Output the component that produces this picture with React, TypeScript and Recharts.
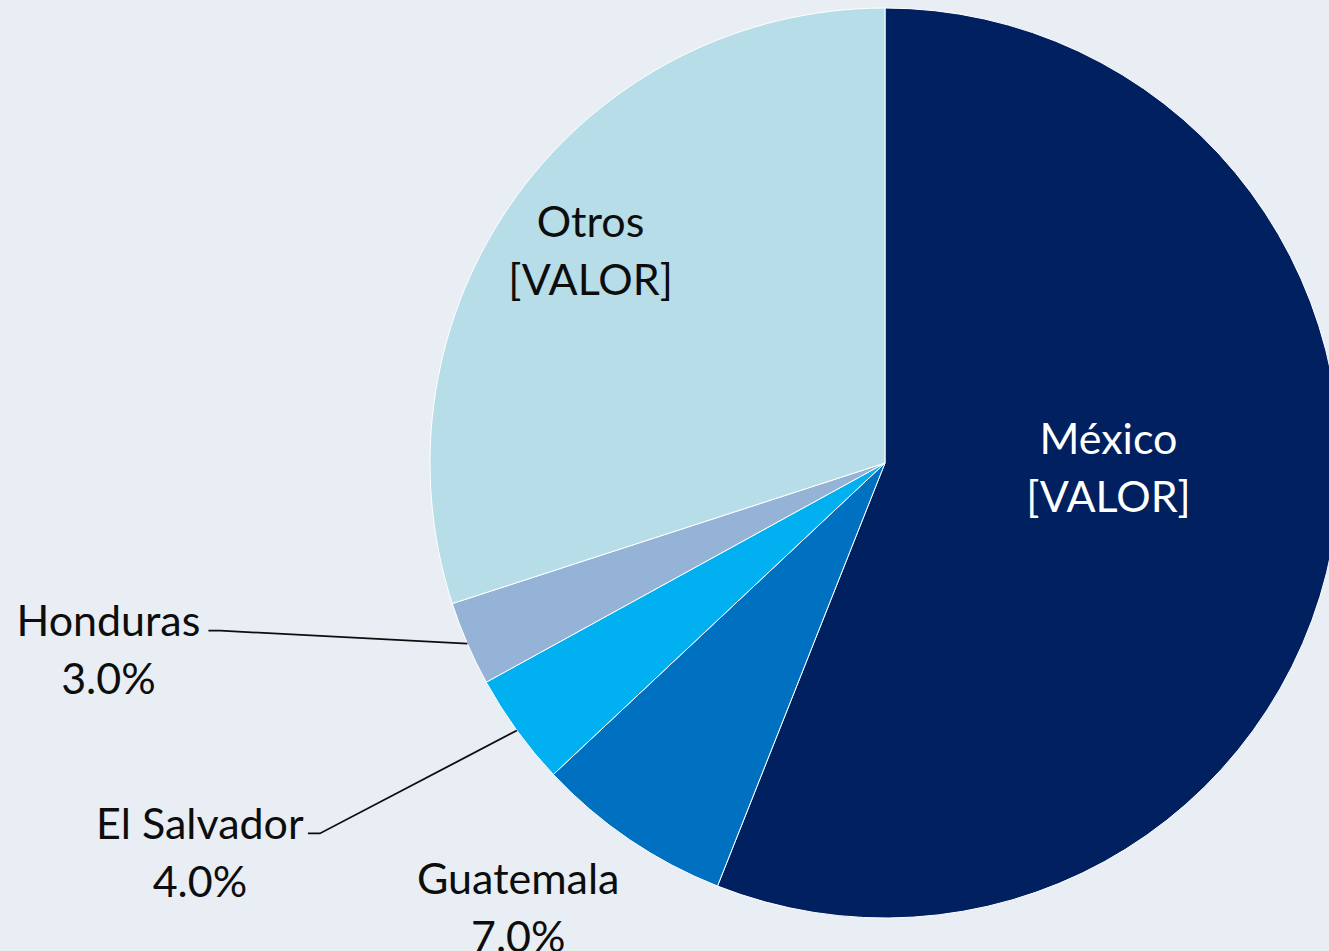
import { PieChart, Pie, Cell } from "recharts";

const countries = ["México", "Guatemala", "El Salvador", "Honduras", "Otros"];
const shares = [56, 7, 4, 3, 30];
const valueLabels = ["[VALOR]", "7.0%", "4.0%", "3.0%", "[VALOR]"];
const sliceColors = ["#002060", "#0070C0", "#00B0F0", "#95B3D7", "#B7DEE8"];

// label placement per slice: inside ones use a radius factor, outside ones an offset from the rim
const labelLayout = [
  { inside: true, r: 0.5, dx: 0, dy: -39, color: "#ffffff" },
  { inside: false, dx: -111, dy: 38, line: null },
  { inside: false, dx: -317, dy: 92, line: 108 },
  { inside: false, dx: -359, dy: -24, line: 100 },
  { inside: true, r: 0.8, dx: 0, dy: 0, color: "#0d0d0d" },
];

const chartData = countries.map((name, i) => ({ name, value: shares[i] }));

const RAD = Math.PI / 180;
const FONT = "Lato, 'Open Sans', sans-serif";
const FS = 43;
const LINE_GAP = 58;

function renderLabel(props: any) {
  const { cx, cy, midAngle, outerRadius, index } = props;
  const lay: any = labelLayout[index];
  const cos = Math.cos(-midAngle * RAD);
  const sin = Math.sin(-midAngle * RAD);
  if (lay.inside) {
    const x = cx + outerRadius * lay.r * cos + lay.dx;
    const y = cy + outerRadius * lay.r * sin + lay.dy;
    return (
      <g key={`lbl-${index}`}>
        <text x={x} y={y - LINE_GAP / 2} textAnchor="middle" dominantBaseline="central" fill={lay.color} fontSize={FS} fontFamily={FONT}>
          {countries[index]}
        </text>
        <text x={x} y={y + LINE_GAP / 2} textAnchor="middle" dominantBaseline="central" fill={lay.color} fontSize={FS} fontFamily={FONT}>
          {valueLabels[index]}
        </text>
      </g>
    );
  }
  const ex = cx + outerRadius * cos;
  const ey = cy + outerRadius * sin;
  const tx = ex + lay.dx;
  const ty = ey + lay.dy;
  let path = null;
  if (lay.line != null) {
    const sx = tx + lay.line;
    const sy = ty + 11;
    path = <path d={`M${sx},${sy} L${sx + 12},${sy} L${ex},${ey}`} stroke="#0d0d0d" strokeWidth={1.8} fill="none" />;
  }
  return (
    <g key={`lbl-${index}`}>
      {path}
      <text x={tx} y={ty} textAnchor="middle" dominantBaseline="central" fill="#0d0d0d" fontSize={FS} fontFamily={FONT}>
        {countries[index]}
      </text>
      <text x={tx} y={ty + LINE_GAP} textAnchor="middle" dominantBaseline="central" fill="#0d0d0d" fontSize={FS} fontFamily={FONT}>
        {valueLabels[index]}
      </text>
    </g>
  );
}

export default function App() {
  return (
    <div style={{ position: "absolute", left: 0, top: 0, width: 1329, height: 951, background: "#E9EDF4", overflow: "hidden" }}>
      <PieChart width={1329} height={951} margin={{ top: 0, right: 0, bottom: 0, left: 0 }}>
        <Pie
          data={chartData}
          dataKey="value"
          nameKey="name"
          cx={885}
          cy={463}
          outerRadius={455}
          startAngle={90}
          endAngle={-270}
          stroke="#ffffff"
          strokeWidth={1}
          labelLine={false}
          label={renderLabel}
          isAnimationActive={false}
        >
          {chartData.map((d, i) => (
            <Cell key={d.name} fill={sliceColors[i]} />
          ))}
        </Pie>
      </PieChart>
    </div>
  );
}
